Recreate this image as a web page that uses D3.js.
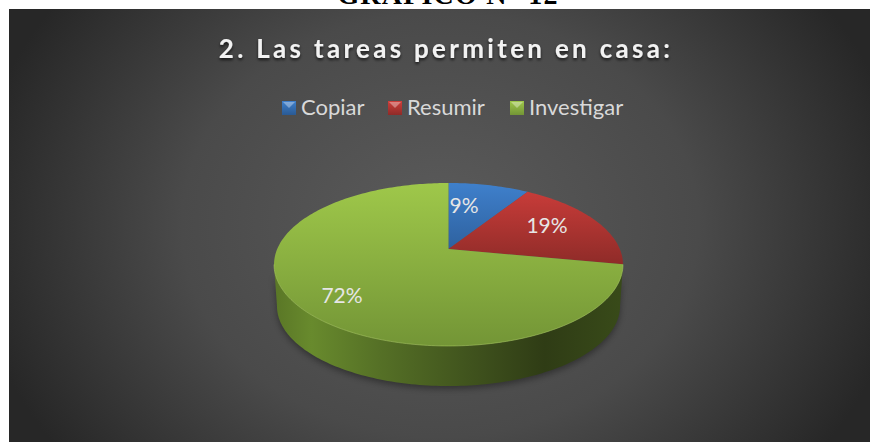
<!DOCTYPE html>
<html>
<head>
<meta charset="utf-8">
<script src="https://cdn.jsdelivr.net/npm/d3@7"></script>
<style>
  html, body { margin: 0; padding: 0; background: #fff; overflow: hidden; }
  svg { display: block; }
</style>
</head>
<body>
<svg id="chart" width="870" height="442"></svg>
<script>
const categories = ["Copiar", "Resumir", "Investigar"];
const values = [9, 19, 72];
const labels = ["9%", "19%", "72%"];
const topColors = ["#3f80cc", "#cf3e3b", "#9fc84a"];
const bottomColors = ["#2a5a94", "#8e2b28", "#739536"];
const wallStops = [[0, "#5b7827"], [0.1, "#688a2d"], [0.3, "#557026"], [0.6, "#3d4f1c"], [0.78, "#2f3c15"], [1, "#384a19"]];

const svg = d3.select("#chart");
const defs = svg.append("defs");

// frame
const frame = { x: 9, y: 9, w: 861, h: 433 };

svg.append("text")
  .attr("x", 448)
  .attr("y", 4)
  .attr("text-anchor", "middle")
  .attr("font-family", "Liberation Serif")
  .attr("font-weight", "bold")
  .attr("font-size", 28)
  .attr("letter-spacing", 1.2)
  .attr("fill", "#000")
  .text("GRÁFICO N° 12");

const bg = defs.append("radialGradient").attr("id", "bg")
  .attr("gradientUnits", "userSpaceOnUse")
  .attr("cx", 440).attr("cy", 225).attr("r", 470)
  .attr("gradientTransform", "translate(440 225) scale(1 0.82) translate(-440 -225)");
bg.append("stop").attr("offset", "0").attr("stop-color", "#5b5b5b");
bg.append("stop").attr("offset", "0.55").attr("stop-color", "#4a4a4a");
bg.append("stop").attr("offset", "1").attr("stop-color", "#272727");

svg.append("rect")
  .attr("x", frame.x).attr("y", frame.y)
  .attr("width", frame.w).attr("height", frame.h)
  .attr("fill", "url(#bg)");

const shadow = defs.append("filter").attr("id", "textShadow")
  .attr("x", "-10%").attr("y", "-30%").attr("width", "120%").attr("height", "170%");
shadow.append("feDropShadow")
  .attr("dx", 0).attr("dy", 2).attr("stdDeviation", 1.5)
  .attr("flood-color", "#000").attr("flood-opacity", 0.7);

svg.append("text")
  .attr("x", 446)
  .attr("y", 58)
  .attr("text-anchor", "middle")
  .attr("font-family", "Lato")
  .attr("font-weight", "bold")
  .attr("font-size", 26)
  .attr("letter-spacing", 3.3)
  .attr("fill", "#f2f2f2")
  .attr("filter", "url(#textShadow)")
  .text("2. Las tareas permiten en casa:");

// legend
const legendX = d3.scaleOrdinal().domain(categories).range([282, 388, 510]);
const legend = svg.append("g").selectAll("g").data(categories).join("g")
  .attr("transform", d => `translate(${legendX(d)},101)`);
categories.forEach((c, i) => {
  const g = defs.append("linearGradient").attr("id", "leg" + i)
    .attr("x1", 0).attr("y1", 0).attr("x2", 0).attr("y2", 1);
  g.append("stop").attr("offset", "0").attr("stop-color", topColors[i]);
  g.append("stop").attr("offset", "1").attr("stop-color", bottomColors[i]);
});
legend.append("rect")
  .attr("width", 14).attr("height", 14)
  .attr("fill", (d, i) => `url(#leg${i})`);
legend.append("path")
  .attr("d", "M1,1H13L7,7Z")
  .attr("fill", "#fff")
  .attr("opacity", 0.35);
legend.append("text")
  .attr("x", 19)
  .attr("y", 14)
  .attr("font-family", "Lato")
  .attr("font-size", 22)
  .attr("fill", "#d9d9d9")
  .text(d => d);

// pie in perspective: unit circle (u right, v back) projected onto the page
const tilt = 0.19;
const top3d = { x: d3.scaleLinear().domain([0, 1]).range([448.5, 619.8]),
                y: d3.scaleLinear().domain([0, 1]).range([249, 170.45]) };
const bottom3d = { x: d3.scaleLinear().domain([0, 1]).range([448.5, 616.9]),
                   y: d3.scaleLinear().domain([0, 1]).range([291, 214]) };
function project(scale, angle) {
  const u = Math.sin(angle);
  const v = Math.cos(angle);
  const w = 1 + tilt * v;
  return [scale.x(u / w), scale.y(v / w)];
}
const line = d3.line();
function arcPoints(scale, a0, a1) {
  const n = Math.max(2, Math.ceil((a1 - a0) / 0.02));
  return d3.range(n + 1).map(i => project(scale, a0 + (a1 - a0) * i / n));
}

const pie = d3.pie().sort(null).value(d => d);
const slices = pie(values);

const pieShadow = defs.append("filter").attr("id", "pieShadow")
  .attr("x", "-10%").attr("y", "-10%").attr("width", "120%").attr("height", "125%");
pieShadow.append("feGaussianBlur").attr("stdDeviation", 3);

// wall: front half of the outline, swept down
const wallGrad = defs.append("linearGradient").attr("id", "wall")
  .attr("gradientUnits", "userSpaceOnUse")
  .attr("x1", top3d.x(-1)).attr("y1", 0).attr("x2", top3d.x(1)).attr("y2", 0);
wallStops.forEach(s => wallGrad.append("stop").attr("offset", s[0]).attr("stop-color", s[1]));

const wallStart = Math.PI / 2 + Math.asin(tilt);
const wallEnd = 3 * Math.PI / 2 - Math.asin(tilt);
const frontTop = arcPoints(top3d, wallStart, wallEnd);
const frontBottom = arcPoints(bottom3d, wallStart, wallEnd);
const wallPath = line(frontTop.concat(frontBottom.slice().reverse())) + "Z";

svg.append("path")
  .attr("d", wallPath)
  .attr("transform", "translate(0,3)")
  .attr("fill", "#000")
  .attr("opacity", 0.35)
  .attr("filter", "url(#pieShadow)");
svg.append("path").attr("d", wallPath).attr("fill", "url(#wall)");

// top faces
slices.forEach((d, i) => {
  const g = defs.append("linearGradient").attr("id", "top" + i)
    .attr("gradientUnits", "userSpaceOnUse")
    .attr("x1", 0).attr("y1", top3d.y(1) + 12).attr("x2", 0).attr("y2", i === 2 ? 346 : 265);
  g.append("stop").attr("offset", "0").attr("stop-color", topColors[i]);
  g.append("stop").attr("offset", "1").attr("stop-color", bottomColors[i]);
});
svg.append("g").selectAll("path").data(slices).join("path")
  .attr("d", d => line([[top3d.x(0), top3d.y(0)]].concat(arcPoints(top3d, d.startAngle, d.endAngle))) + "Z")
  .attr("fill", (d, i) => `url(#top${i})`);

// bevel along the front rim
svg.append("path")
  .attr("d", line(frontTop))
  .attr("fill", "none")
  .attr("stroke", "#a9cc5e")
  .attr("stroke-opacity", 0.55)
  .attr("stroke-width", 1);

// slice labels
const labelPos = [[464, 206], [547, 226], [342, 296]];
svg.append("g").selectAll("text").data(labels).join("text")
  .attr("x", (d, i) => labelPos[i][0])
  .attr("y", (d, i) => labelPos[i][1])
  .attr("dy", "0.35em")
  .attr("text-anchor", "middle")
  .attr("font-family", "Lato")
  .attr("font-size", 21)
  .attr("fill", "#e6e6e6")
  .text(d => d);
</script>
</body>
</html>
